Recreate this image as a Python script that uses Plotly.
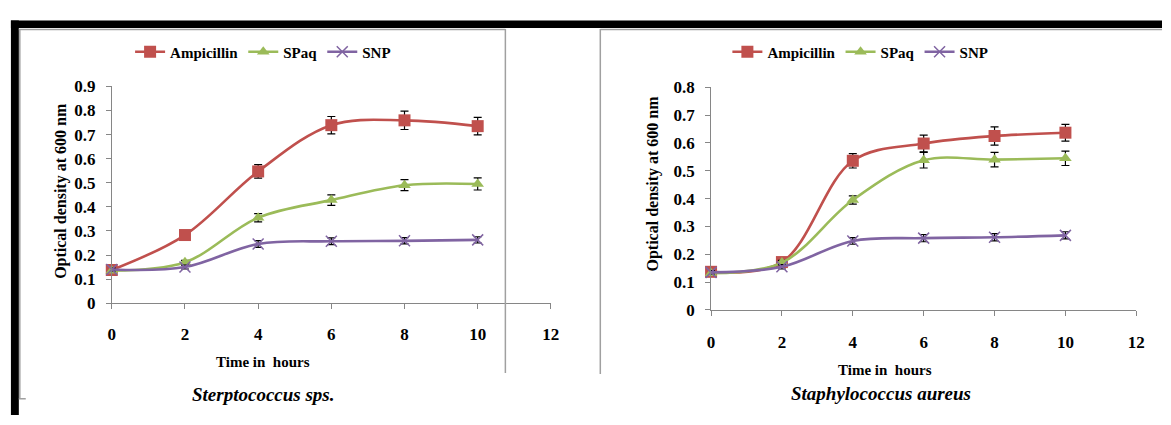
import plotly.graph_objects as go

# ---------------- data ----------------
time_h = [0, 2, 4, 6, 8, 10]
series_names = ["Ampicillin", "SPaq", "SNP"]

# Sterptococcus sps.
strep_amp = [0.138, 0.283, 0.547, 0.739, 0.759, 0.735]
strep_spaq = [0.135, 0.170, 0.355, 0.428, 0.490, 0.495]
strep_snp = [0.140, 0.150, 0.246, 0.257, 0.259, 0.263]
strep_amp_err = [0.008, 0.010, 0.028, 0.036, 0.038, 0.036]
strep_spaq_err = [0.006, 0.008, 0.017, 0.022, 0.023, 0.025]
strep_snp_err = [0.006, 0.008, 0.014, 0.014, 0.013, 0.013]

# Staphylococcus aureus
staph_amp = [0.137, 0.172, 0.536, 0.598, 0.625, 0.637]
staph_spaq = [0.132, 0.170, 0.395, 0.538, 0.540, 0.545]
staph_snp = [0.135, 0.155, 0.248, 0.258, 0.261, 0.268]
staph_amp_err = [0.008, 0.010, 0.026, 0.030, 0.033, 0.030]
staph_spaq_err = [0.006, 0.008, 0.015, 0.028, 0.026, 0.026]
staph_snp_err = [0.006, 0.008, 0.012, 0.013, 0.013, 0.013]

x_ticks = [0, 2, 4, 6, 8, 10, 12]
x_ticktext = ["0", "2", "4", "6", "8", "10", "12"]
y1_ticks = [0, 0.1, 0.2, 0.3, 0.4, 0.5, 0.6, 0.7, 0.8, 0.9]
y1_ticktext = ["0", "0.1", "0.2", "0.3", "0.4", "0.5", "0.6", "0.7", "0.8", "0.9"]
y2_ticks = [0, 0.1, 0.2, 0.3, 0.4, 0.5, 0.6, 0.7, 0.8]
y2_ticktext = ["0", "0.1", "0.2", "0.3", "0.4", "0.5", "0.6", "0.7", "0.8"]

x_title = "Time in\u00a0 hours"
y_title = "Optical density at 600 nm"
panel_titles = ["Sterptococcus sps.", "Staphylococcus aureus"]

# ---------------- style ----------------
W, H = 1171, 425
FONT = "Liberation Serif"
colors = {"Ampicillin": "#C0504D", "SPaq": "#9BBB59", "SNP": "#8064A2"}
markers = {
    "Ampicillin": dict(symbol="square", size=12),
    "SPaq": dict(symbol="triangle-up", size=11),
    "SNP": dict(symbol="x-thin-open", size=11),
}
AXIS_GRAY = "#868686"


def px_x(p):
    return p / W


def px_y(p):
    return 1 - p / H


fig = go.Figure()

panels = [
    ("x", "y", "legend", [strep_amp, strep_spaq, strep_snp],
     [strep_amp_err, strep_spaq_err, strep_snp_err]),
    ("x2", "y2", "legend2", [staph_amp, staph_spaq, staph_snp],
     [staph_amp_err, staph_spaq_err, staph_snp_err]),
]

for xa, ya, leg, vals, errs in panels:
    for name, v, e in zip(series_names, vals, errs):
        mk = dict(markers[name])
        mk["color"] = colors[name]
        if name == "SNP":
            mk["line"] = dict(color=colors[name], width=1.5)
        fig.add_trace(go.Scatter(
            x=time_h, y=v, name=name, mode="lines+markers",
            xaxis=xa, yaxis=ya, legend=leg,
            line=dict(color=colors[name], width=2.6, shape="spline", smoothing=1),
            marker=mk,
            error_y=dict(type="data", array=e, visible=True, color="black",
                         thickness=1.2, width=4),
            cliponaxis=False,
        ))

axis_common = dict(
    showgrid=False, zeroline=False, showline=True, linecolor=AXIS_GRAY,
    linewidth=1, ticks="outside", ticklen=5, tickcolor=AXIS_GRAY,
    tickfont=dict(family=FONT, size=17, color="black", weight="bold"),
    fixedrange=True,
)

fig.update_layout(
    width=W, height=H,
    margin=dict(l=0, r=0, t=0, b=0),
    paper_bgcolor="white", plot_bgcolor="white",
    font=dict(family=FONT, color="black"),
    xaxis=dict(domain=[px_x(109), px_x(553)], range=[0, 12], anchor="y",
               tickvals=x_ticks, ticktext=x_ticktext, ticklabelstandoff=10,
               **axis_common),
    yaxis=dict(domain=[px_y(308), px_y(81)], range=[0, 0.9], anchor="x",
               tickvals=y1_ticks, ticktext=y1_ticktext, ticklabelstandoff=7,
               **axis_common),
    xaxis2=dict(domain=[px_x(715), px_x(1145)], range=[0, 12], anchor="y2",
                tickvals=x_ticks, ticktext=x_ticktext, ticklabelstandoff=12,
                **axis_common),
    yaxis2=dict(domain=[px_y(315), px_y(82)], range=[0, 0.8], anchor="x2",
                tickvals=y2_ticks, ticktext=y2_ticktext, ticklabelstandoff=7,
                **axis_common),
    legend=dict(orientation="h", x=px_x(262), y=px_y(45), xanchor="center",
                yanchor="middle", font=dict(family=FONT, size=15, weight="bold"),
                itemwidth=30, bgcolor="rgba(0,0,0,0)", tracegroupgap=0),
    legend2=dict(orientation="h", x=px_x(866), y=px_y(45), xanchor="center",
                 yanchor="middle", font=dict(family=FONT, size=15, weight="bold"),
                 itemwidth=30, bgcolor="rgba(0,0,0,0)", tracegroupgap=0),
    showlegend=True,
)

annots = [
    dict(text=y_title, x=px_x(57), y=px_y(190), textangle=-90, size=16, bold=True, italic=False),
    dict(text=y_title, x=px_x(656), y=px_y(183), textangle=-90, size=16, bold=True, italic=False),
    dict(text=x_title, x=px_x(262), y=px_y(369), textangle=0, size=15, bold=True, italic=False),
    dict(text=x_title, x=px_x(891), y=px_y(378), textangle=0, size=15, bold=True, italic=False),
    dict(text=panel_titles[0], x=px_x(262), y=px_y(404), textangle=0, size=19, bold=True, italic=True),
    dict(text=panel_titles[1], x=px_x(887), y=px_y(403), textangle=0, size=19, bold=True, italic=True),
]
for a in annots:
    fig.add_annotation(
        text=a["text"], x=a["x"], y=a["y"], xref="paper", yref="paper",
        xanchor="center", yanchor="middle", showarrow=False, textangle=a["textangle"],
        font=dict(family=FONT, size=a["size"], color="black",
                  weight="bold" if a["bold"] else "normal",
                  style="italic" if a["italic"] else "normal"),
    )

# frame: black bars and gray panel borders
shapes = [
    dict(type="rect", x0=px_x(7), x1=1, y0=px_y(20), y1=px_y(12),
         fillcolor="black", line=dict(width=0)),
    dict(type="rect", x0=px_x(7), x1=px_x(15), y0=0, y1=px_y(12),
         fillcolor="black", line=dict(width=0)),
    dict(type="line", x0=px_x(15), x1=px_x(507), y0=px_y(21.5), y1=px_y(21.5),
         line=dict(color="#A0A0A0", width=1.5)),
    dict(type="line", x0=px_x(16), x1=px_x(16), y0=px_y(21), y1=px_y(408),
         line=dict(color="#A0A0A0", width=1.5)),
    dict(type="line", x0=px_x(15), x1=px_x(22), y0=px_y(408), y1=px_y(408),
         line=dict(color="#A0A0A0", width=1.5)),
    dict(type="line", x0=px_x(507), x1=px_x(507), y0=px_y(21), y1=px_y(381),
         line=dict(color="#A0A0A0", width=1.5)),
    dict(type="line", x0=px_x(603), x1=1, y0=px_y(21.5), y1=px_y(21.5),
         line=dict(color="#A0A0A0", width=1.5)),
    dict(type="line", x0=px_x(603), x1=px_x(603), y0=px_y(21), y1=px_y(382),
         line=dict(color="#A0A0A0", width=1.5)),
]
for s in shapes:
    s["xref"] = "paper"
    s["yref"] = "paper"
    s["layer"] = "above"
    fig.add_shape(**s)

fig.write_html("out.html")
